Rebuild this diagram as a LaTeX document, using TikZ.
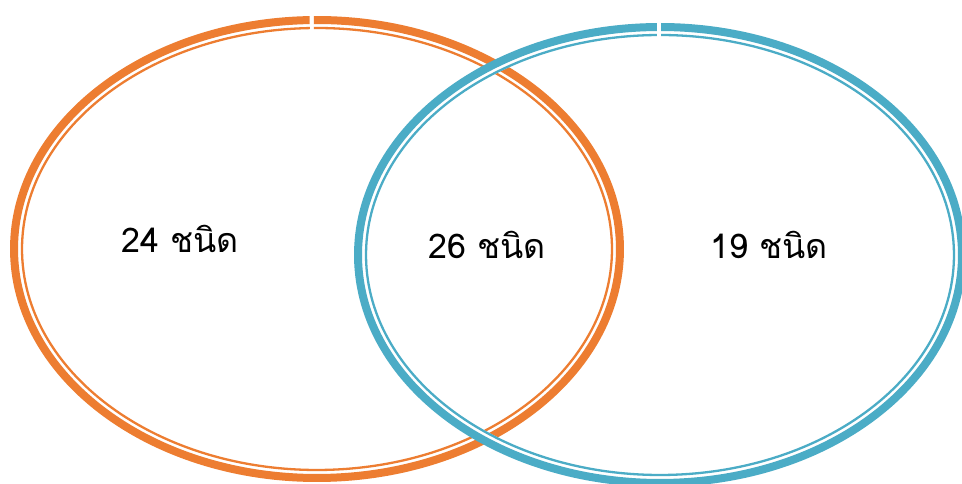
\documentclass[tikz,border=0pt]{standalone}
\usepackage{fontspec}
\setmainfont{Loma}[Script=Thai]
\definecolor{venorange}{HTML}{ED7D31}
\definecolor{venblue}{HTML}{4BACC6}
\tikzset{
  outerline/.style={line width=8pt},
  innerline/.style={line width=2.3pt},
  gapband/.style={line width=10pt, white},
  lbl/.style={anchor=base, font=\fontsize{34}{40}\selectfont, text=black, inner sep=0pt}
}
\begin{document}
\begin{tikzpicture}[x=1pt,y=1pt]
\useasboundingbox (0,0) rectangle (962,484);
\clip (0,0) rectangle (962,484);
\fill[white] (0,0) rectangle (962,484);
% orange set
\coordinate (oc) at (317,235);
\draw[venorange,outerline] (oc) ++(91.4:303 and 229) arc[start angle=91.4, end angle=450.6, x radius=303, y radius=229];
\draw[venorange,innerline] (oc) ++(91.4:295 and 221) arc[start angle=91.4, end angle=450.6, x radius=295, y radius=221];
% blue set
\coordinate (bc) at (660,229);
\draw[gapband] (bc) ellipse[x radius=298, y radius=224];
\draw[venblue,outerline] (bc) ++(90.6:302 and 228) arc[start angle=90.6, end angle=449.8, x radius=302, y radius=228];
\draw[venblue,innerline] (bc) ++(90.6:294 and 220) arc[start angle=90.6, end angle=449.8, x radius=294, y radius=220];
% labels
\node[lbl] (left) at (180,231) {24 ชนิด};
\node[lbl] (mid) at (487,225) {26 ชนิด};
\node[lbl] (right) at (769,225) {19 ชนิด};
\end{tikzpicture}
\end{document}
